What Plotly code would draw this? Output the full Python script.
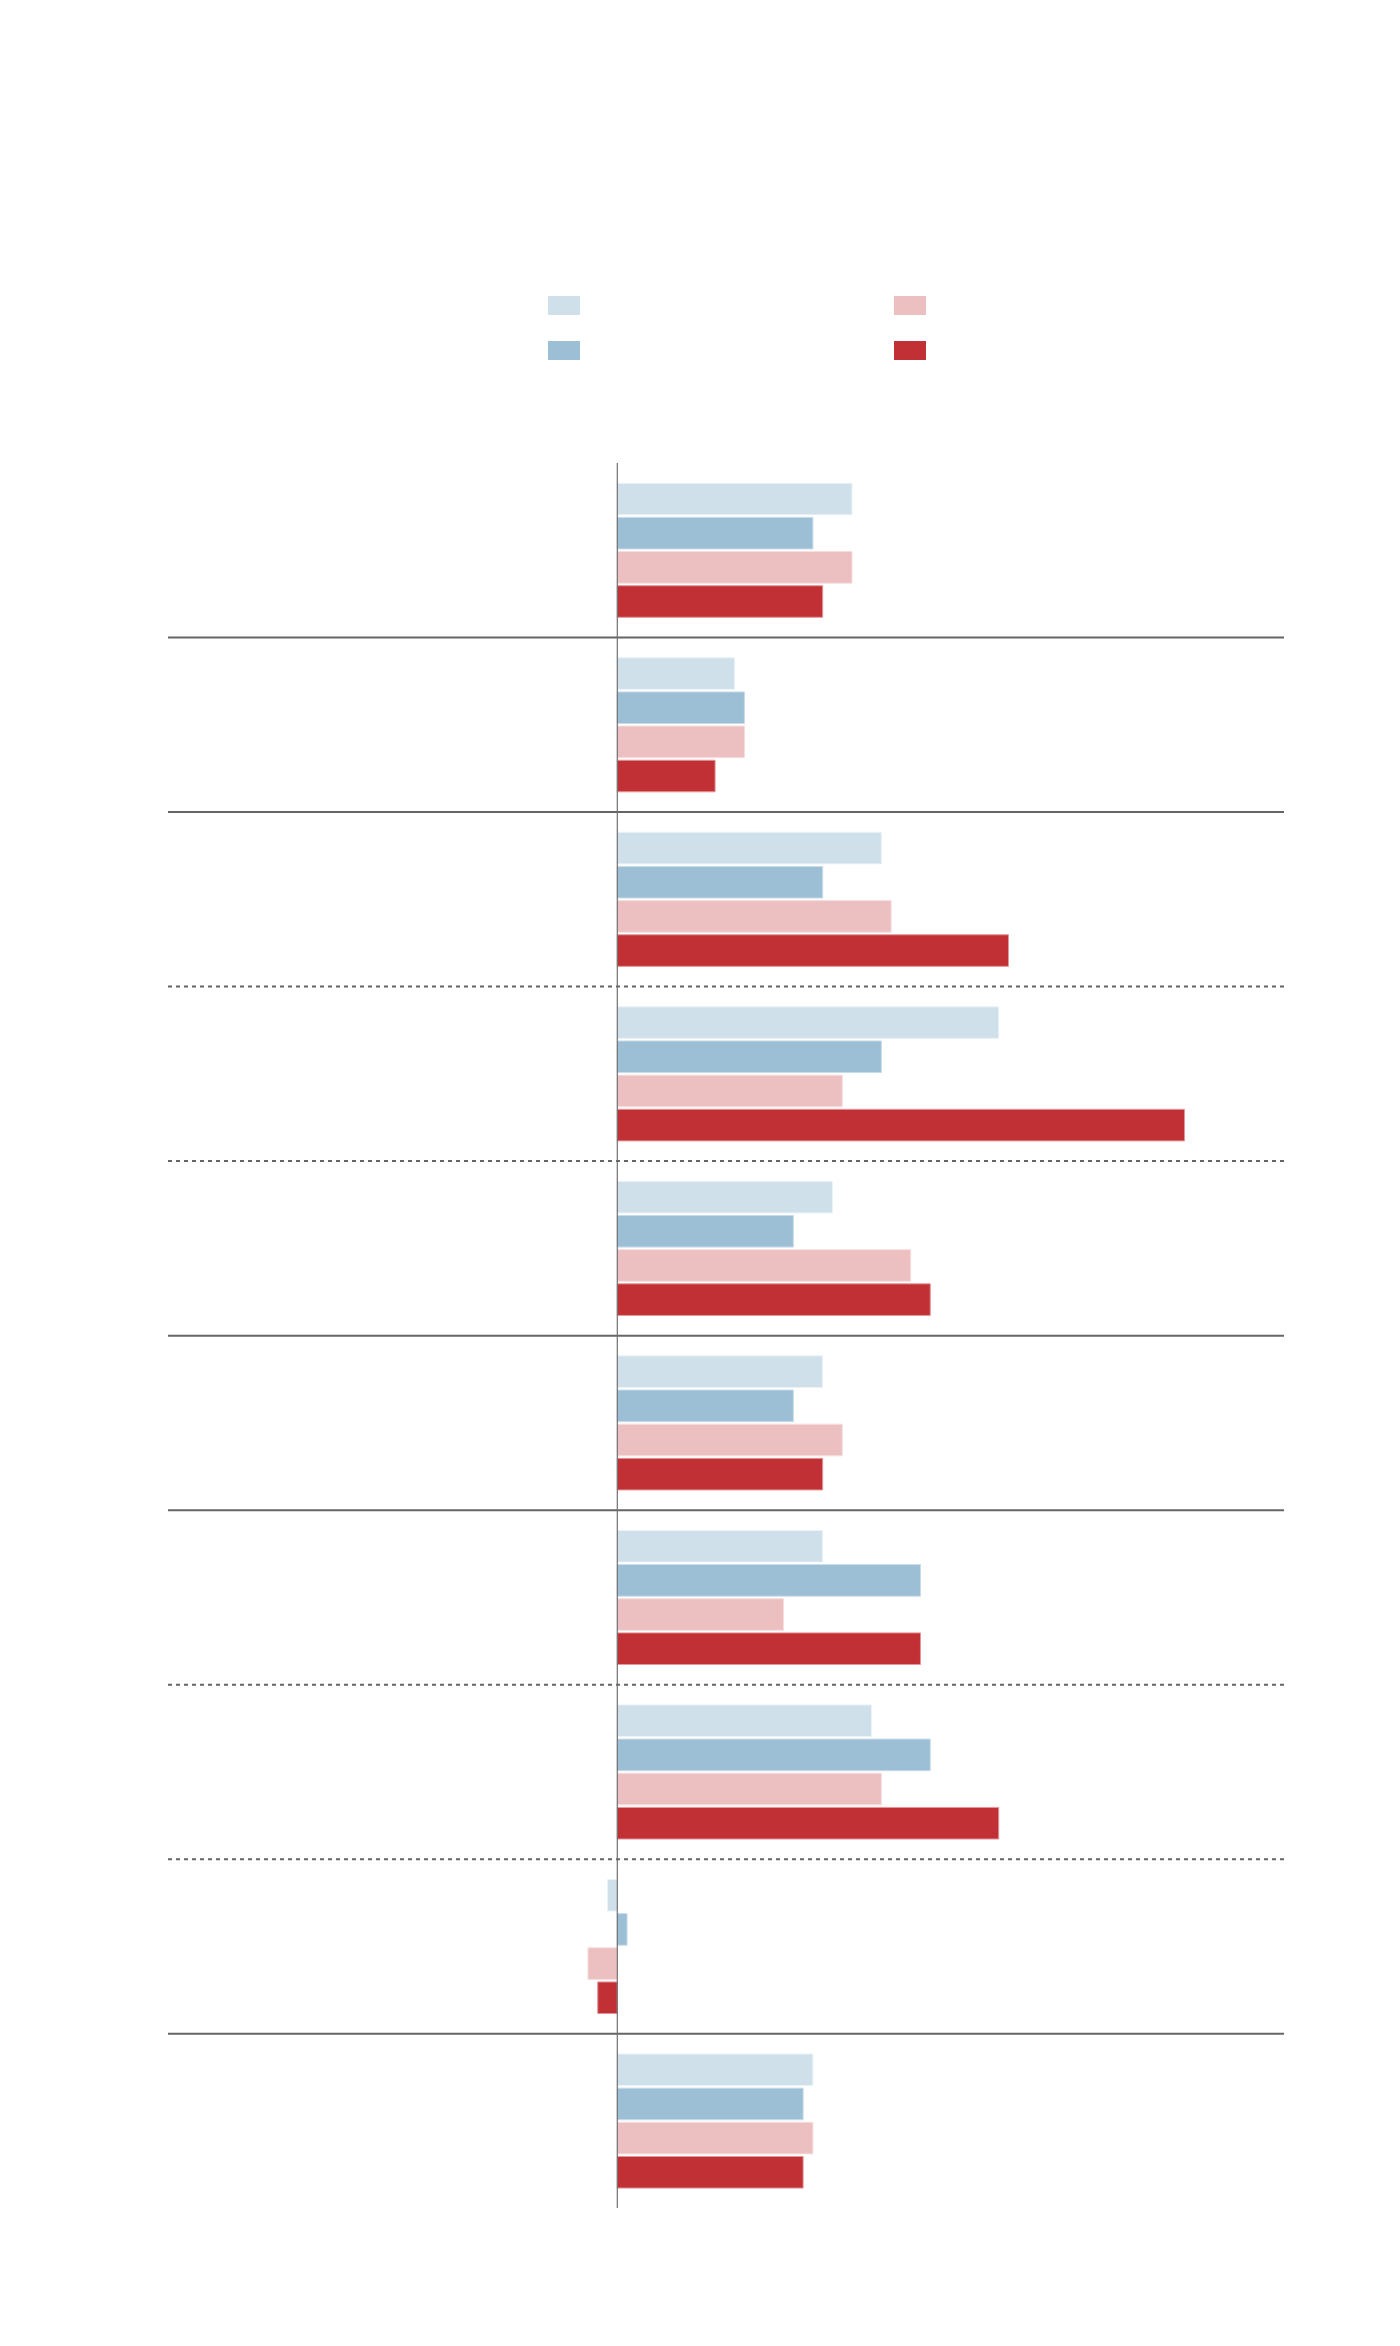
import plotly.graph_objects as go

# ---- data ----
categories = ["G1", "G2", "G3", "G4", "G5", "G6", "G7", "G8", "G9", "G10"]
series_names = ["Series A", "Series B", "Series C", "Series D"]
s_light_blue = [12.0, 6.0, 13.5, 19.5, 11.0, 10.5, 10.5, 13.0, -0.5, 10.0]
s_blue = [10.0, 6.5, 10.5, 13.5, 9.0, 9.0, 15.5, 16.0, 0.5, 9.5]
s_pink = [12.0, 6.5, 14.0, 11.5, 15.0, 11.5, 8.5, 13.5, -1.5, 10.0]
s_red = [10.5, 5.0, 20.0, 29.0, 16.0, 10.5, 15.5, 19.5, -1.0, 9.5]
separator_styles = ["solid", "solid", "dot", "dot", "solid", "solid", "dot", "dot", "solid"]

colors = ["#cfe0eb", "#9dbfd5", "#ecbfc1", "#c13035"]
edge = ["rgba(235,243,248,1)", "rgba(200,220,233,1)", "rgba(246,222,223,1)", "rgba(228,150,153,1)"]
all_series = [s_light_blue, s_blue, s_pink, s_red]

OFF = 8  # page body margin
W, H = 1400 - 2 * OFF, 2346 - 2 * OFF
PX = 19.56          # pixels per unit
ZERO = 617.3 - OFF  # x pixel of zero
fig = go.Figure()
for name, vals, c, e in zip(series_names, all_series, colors, edge):
    fig.add_trace(go.Bar(
        y=list(range(len(categories))), x=vals, orientation="h", name=name,
        marker=dict(color=c, line=dict(color=e, width=1)),
        showlegend=False, hoverinfo="x",
    ))

shapes = []
# zero line
shapes.append(dict(type="line", xref="x", yref="y", x0=0, x1=0, y0=-0.5, y1=len(categories) - 0.5,
                   line=dict(color="#707070", width=1.2), layer="above"))
# group separators
for i, st in enumerate(separator_styles):
    shapes.append(dict(type="line", xref="paper", yref="y", x0=(168 - OFF) / W, x1=(1284 - OFF) / W,
                       y0=i + 0.5, y1=i + 0.5,
                       line=dict(color="#666666", width=2,
                                 dash="solid" if st == "solid" else "4px,4px"),
                       layer="below"))
# legend swatches (no labels in the reference)
sw = [(548, 296, colors[0]), (894, 296, colors[2]), (548, 341, colors[1]), (894, 341, colors[3])]
for x0, y0, c in sw:
    x0 -= OFF
    y0 -= OFF
    shapes.append(dict(type="rect", xref="paper", yref="paper",
                       x0=x0 / W, x1=(x0 + 32) / W, y0=1 - (y0 + 19) / H, y1=1 - y0 / H,
                       fillcolor=c, line=dict(width=0)))

fig.update_layout(
    width=W, height=H,
    margin=dict(l=0, r=0, t=0, b=0),
    paper_bgcolor="white", plot_bgcolor="white",
    barmode="group", bargap=0.217, bargroupgap=0.075,
    shapes=shapes,
    xaxis=dict(range=[-ZERO / PX, (W - ZERO) / PX], domain=[0, 1],
               showgrid=False, zeroline=False, showticklabels=False, ticks="", showline=False),
    yaxis=dict(range=[len(categories) - 0.5, -0.5],
               domain=[1 - (2208.3 - OFF) / H, 1 - (463 - OFF) / H],
               tickmode="array", tickvals=list(range(len(categories))), ticktext=categories,
               showgrid=False, zeroline=False, showticklabels=False, ticks="", showline=False),
    font=dict(family="Roboto"),
)

fig.write_html("out.html")
